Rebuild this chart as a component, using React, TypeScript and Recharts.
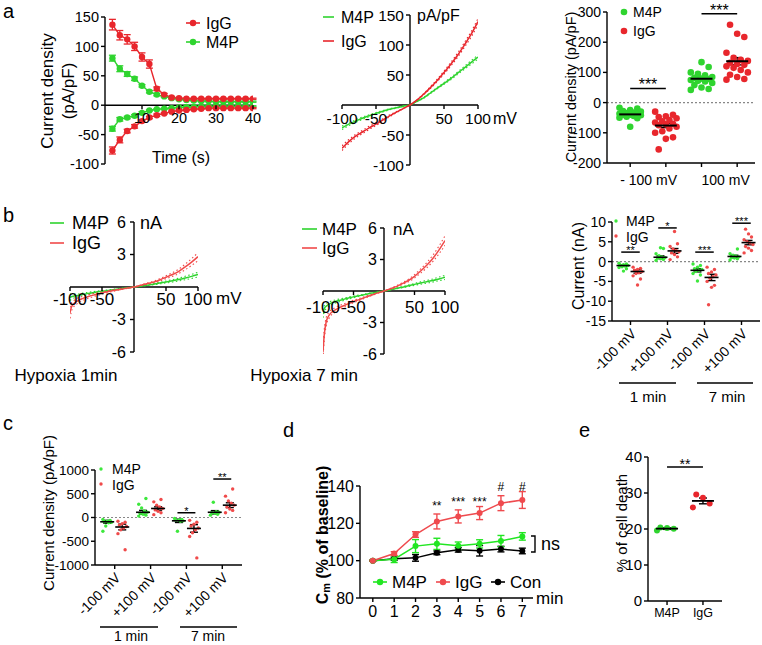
import React from 'react'
import {
  ComposedChart, Line, Scatter, XAxis, YAxis, ReferenceLine, ReferenceDot, ErrorBar,
} from 'recharts'

const FONT = '"Liberation Sans", Arial, Helvetica, sans-serif'
const RED = '#e8262c'
const GREEN = '#2fd42f'
const PALE_RED = '#f04a4a'
const PALE_GREEN = '#3de83d'
const AX = { stroke: '#000', strokeWidth: 1.4 }

// a, left: current density vs time (s), outward (+) and inward (-) currents
const TIME_S = [2, 4, 6, 8, 10, 12, 14, 16, 18, 20, 22, 24, 26, 28, 30, 32, 34, 36, 38, 40]
const IGG_OUT = [137, 119, 112, 100, 82, 70, 28, 18, 13, 12, 11, 11, 11, 11, 11, 11, 11, 11, 11, 11]
const IGG_OUT_SEM = [9, 8, 8, 7, 7, 7, 3, 2, 2, 1, 1, 1, 1, 1, 1, 1, 1, 1, 1, 1]
const IGG_IN = [-77, -59, -44, -36, -27, -21, -17, -14, -11, -9, -8, -7, -6, -5, -5, -5, -5, -5, -5, -5]
const IGG_IN_SEM = [6, 5, 3, 3, 2, 2, 2, 1, 1, 1, 1, 1, 1, 1, 1, 1, 1, 1, 1, 1]
const M4P_OUT = [80, 62, 53, 45, 33, 23, 18, 15, 12, 10, 9, 8, 7, 7, 6, 6, 6, 6, 6, 6]
const M4P_OUT_SEM = [5, 5, 4, 3, 2, 2, 2, 1, 1, 1, 1, 1, 1, 1, 1, 1, 1, 1, 1, 1]
const M4P_IN = [-40, -24, -21, -18, -13, -9, -7, -6, -5, -4, -3, -3, -2, -2, -2, -2, -2, -2, -2, -2]
const M4P_IN_SEM = [4, 3, 2, 2, 2, 1, 1, 1, 1, 1, 1, 1, 1, 1, 1, 1, 1, 1, 1, 1]

// a, middle: I-V curves (pA/pF)
const VM_A = [-100, -90, -80, -70, -60, -50, -40, -30, -20, -10, 0, 10, 20, 30, 40, 50, 60, 70, 80, 90, 100]
const IV_M4P = [-38, -32, -27, -22, -18, -14, -10.5, -7, -4.5, -2, 0, 6, 12, 20, 28, 36, 44, 53, 62, 71, 80]
const IV_M4P_SEM = [3, 2.5, 2.2, 2, 1.8, 1.5, 1.2, 1, 0.8, 0.5, 0, 0.5, 0.8, 1, 1.2, 1.5, 1.8, 2, 2.5, 3, 3.5]
const IV_IGG = [-72, -61, -52, -45, -38, -32, -25, -18, -12, -6, 0, 8, 18, 29, 41, 54, 68, 83, 100, 118, 139]
const IV_IGG_SEM = [4, 3.5, 3, 2.8, 2.5, 2.2, 2, 1.5, 1, 0.5, 0, 0.5, 1, 1.5, 2, 2.5, 3, 3.5, 4, 4.5, 5]

// a, right: single cells at -100 / +100 mV
const A3_M4P_NEG = [-17, -20, -25, -28, -30, -33, -35, -37, -38, -40, -40, -42, -44, -47, -50, -52, -80]
const A3_IGG_NEG = [-30, -40, -45, -48, -52, -58, -62, -66, -70, -72, -75, -80, -86, -95, -100, -115, -120, -155]
const A3_M4P_POS = [42, 45, 50, 58, 65, 70, 72, 75, 78, 80, 82, 85, 90, 95, 100, 118, 134]
const A3_IGG_POS = [76, 78, 85, 92, 100, 108, 115, 120, 125, 128, 132, 138, 142, 148, 165, 217, 228, 258]
const A3_MEAN = [-39, -76, 79, 137]
const A3_SEM = [3.5, 7, 6, 12]
const A3_SIG = [{ x1: 0, x2: 1, y: 47, label: '***' }, { x1: 2, x2: 3, y: 294, label: '***' }]

// b: I-V under hypoxia (nA)
const VM_B = [-100, -98, -95, -90, -80, -70, -60, -50, -40, -30, -20, -10, 0, 10, 20, 30, 40, 50, 60, 70, 80, 90, 100]
const B1_M4P = [-0.95, -0.9, -0.85, -0.8, -0.68, -0.58, -0.48, -0.4, -0.32, -0.24, -0.16, -0.08, 0, 0.08, 0.17, 0.26, 0.36, 0.46, 0.57, 0.69, 0.83, 0.98, 1.15]
const B1_M4P_SEM = [0.3, 0.25, 0.2, 0.15, 0.12, 0.1, 0.08, 0.07, 0.06, 0.05, 0.04, 0.02, 0, 0.02, 0.04, 0.05, 0.07, 0.09, 0.11, 0.13, 0.16, 0.19, 0.22]
const B1_IGG = [-2.4, -1.9, -1.6, -1.35, -1.05, -0.85, -0.7, -0.55, -0.42, -0.3, -0.2, -0.1, 0, 0.15, 0.3, 0.45, 0.65, 0.9, 1.15, 1.45, 1.85, 2.3, 2.8]
const B1_IGG_SEM = [0.5, 0.4, 0.3, 0.25, 0.2, 0.16, 0.13, 0.1, 0.08, 0.06, 0.04, 0.02, 0, 0.03, 0.05, 0.07, 0.1, 0.13, 0.17, 0.21, 0.26, 0.31, 0.37]
const B2_M4P = [-2.2, -1.7, -1.45, -1.25, -1.0, -0.85, -0.7, -0.56, -0.44, -0.32, -0.2, -0.1, 0, 0.12, 0.24, 0.36, 0.5, 0.63, 0.76, 0.88, 1.0, 1.15, 1.3]
const B2_M4P_SEM = [0.35, 0.3, 0.25, 0.2, 0.15, 0.12, 0.1, 0.08, 0.06, 0.05, 0.03, 0.02, 0, 0.02, 0.04, 0.05, 0.07, 0.09, 0.11, 0.13, 0.15, 0.17, 0.2]
const B2_IGG = [-5.8, -4.2, -3.0, -2.3, -1.8, -1.5, -1.25, -1.0, -0.8, -0.58, -0.38, -0.18, 0, 0.2, 0.42, 0.7, 1.0, 1.4, 1.9, 2.45, 3.1, 3.9, 4.8]
const B2_IGG_SEM = [0.6, 0.5, 0.4, 0.3, 0.22, 0.18, 0.15, 0.12, 0.1, 0.08, 0.05, 0.03, 0, 0.03, 0.06, 0.09, 0.12, 0.16, 0.2, 0.25, 0.3, 0.37, 0.45]

// b, right + c: per-cell values, groups = -100 mV 1 min, +100 mV 1 min, -100 mV 7 min, +100 mV 7 min
const STEP_LABELS = ['-100 mV', '+100 mV', '-100 mV', '+100 mV']
const B3_M4P = [
  [-0.4, -0.6, -0.8, -0.9, -1.0, -1.1, -1.3, -1.5, -1.8, -2.4],
  [0.3, 0.5, 0.7, 0.9, 1.0, 1.2, 1.5, 2.0, 3.3, 3.5],
  [-0.6, -1.0, -1.4, -1.8, -2.0, -2.2, -2.5, -3.0, -3.4, -4.9],
  [0.4, 0.7, 0.9, 1.0, 1.2, 1.4, 1.6, 2.0, 3.2],
]
const B3_IGG = [
  [-1.4, -1.7, -2.0, -2.2, -2.5, -2.8, -3.0, -3.6, -4.4, -5.9],
  [0.5, 1.2, 1.8, 2.2, 2.5, 2.8, 3.2, 3.8, 4.5, 7.6],
  [-1.4, -2.0, -2.6, -3.0, -3.4, -3.8, -4.2, -5.0, -6.0, -6.5, -10.9],
  [2.2, 2.8, 3.4, 3.8, 4.3, 4.7, 5.0, 5.5, 6.2, 7.0, 8.2],
]
const B3_M4P_MEAN = [-1.0, 1.1, -2.2, 1.3]
const B3_M4P_SEM = [0.2, 0.35, 0.4, 0.3]
const B3_IGG_MEAN = [-2.5, 2.7, -4.0, 4.8]
const B3_IGG_SEM = [0.45, 0.6, 0.8, 0.55]
const B3_SIG = [
  { x1: -0.25, x2: 0.25, y: 2.4, label: '**' },
  { x1: 0.75, x2: 1.25, y: 8.5, label: '*' },
  { x1: 1.75, x2: 2.25, y: 2.4, label: '***' },
  { x1: 2.75, x2: 3.25, y: 9.7, label: '***' },
]

const C_M4P = [
  [-40, -60, -80, -90, -100, -110, -180, -290],
  [30, 50, 70, 90, 110, 140, 200, 280, 400],
  [-20, -40, -50, -60, -70, -80, -290],
  [50, 70, 90, 100, 110, 120, 320],
]
const C_IGG = [
  [-80, -100, -130, -160, -190, -220, -260, -340, -680],
  [60, 100, 130, 160, 190, 220, 260, 330, 380],
  [-60, -100, -140, -180, -220, -260, -320, -400, -850],
  [100, 150, 180, 220, 260, 300, 350, 450, 600],
]
const C_M4P_MEAN = [-90, 110, -70, 110]
const C_M4P_SEM = [30, 40, 35, 35]
const C_IGG_MEAN = [-200, 190, -230, 260]
const C_IGG_SEM = [60, 35, 80, 50]
const C_SIG = [
  { x1: 1.75, x2: 2.25, y: 100, label: '*' },
  { x1: 2.75, x2: 3.25, y: 810, label: '**' },
]

// d: membrane capacitance, % of baseline
const D_MIN = [0, 1, 2, 3, 4, 5, 6, 7]
const D_M4P = [100, 100.8, 107.8, 109, 108, 109, 110.5, 113]
const D_M4P_SEM = [0.3, 1.8, 3.5, 3, 2, 2.2, 3, 2]
const D_IGG = [100, 103.8, 114, 121, 123.7, 125.5, 130.8, 132.5]
const D_IGG_SEM = [0.3, 1, 1.5, 4, 3.5, 3.5, 4, 4.5]
const D_CON = [100, 101, 101.5, 104.2, 105.8, 105.3, 106.2, 105.2]
const D_CON_SEM = [0.3, 0.8, 1.8, 1, 1.2, 2.8, 1.5, 1.5]
const D_SIG = [
  { t: 3, y: 129.4, label: '**' },
  { t: 4, y: 131.5, label: '***' },
  { t: 5, y: 131.5, label: '***' },
  { t: 6, y: 139.4, label: '#' },
  { t: 7, y: 139.4, label: '#' },
]

// e: cell death %
const E_M4P = [19.6, 20.1, 20.3, 20.4]
const E_IGG = [26.0, 27.1, 28.7, 29.6]
const E_MEAN = [20.1, 27.8]
const E_SEM = [0.2, 0.8]

// ---------- helpers
const tickFont = (fs: number) => ({ fill: '#000', fontSize: fs, fontFamily: FONT })
const jitter = (i: number, amp: number) => ((((i * 5) % 7) - 3) / 3) * amp
const spread = (vals: number[], x0: number, amp: number) => vals.map((y, i) => ({ x: x0 + jitter(i, amp), y }))
const dotShape = (r: number, fill: string) => (p: any) => <circle cx={p.cx} cy={p.cy} r={r} fill={fill} />
const meanShape = (half: number, sw: number) => (p: any) => (
  <line x1={p.cx - half} x2={p.cx + half} y1={p.cy} y2={p.cy} stroke="#000" strokeWidth={sw} />
)

// axes that cross at zero: recharts puts ticks on the plot edge, we slide them onto the zero line
const crossXTick = (shift: number, gap: number, fs: number) => (p: any) => {
  const y0 = p.y - shift
  return (
    <g>
      <line x1={p.x} x2={p.x} y1={y0} y2={y0 + 4} stroke="#000" strokeWidth={1.4} />
      <text x={p.x} y={y0 + gap} textAnchor="middle" dominantBaseline="central" {...tickFont(fs)}>{p.payload.value}</text>
    </g>
  )
}
const crossYTick = (shift: number, gap: number, fs: number) => (p: any) => {
  const x0 = p.x + shift
  return (
    <g>
      <line x1={x0 - 4} x2={x0} y1={p.y} y2={p.y} stroke="#000" strokeWidth={1.4} />
      <text x={x0 - gap} y={p.y} textAnchor="end" dominantBaseline="central" {...tickFont(fs)}>{p.payload.value}</text>
    </g>
  )
}
const rotTick = (labels: string[], fs: number) => (p: any) => (
  <text transform={`translate(${p.x + 3},${p.y + 3}) rotate(-45)`} textAnchor="end" dominantBaseline="central" {...tickFont(fs)}>
    {labels[p.payload.value]}
  </text>
)

function ivRows(v: number[], m: number[], mSem: number[], g: number[], gSem: number[]) {
  return v.map((x, i) => ({
    v: x,
    m4p: m[i], m4pHi: m[i] + mSem[i], m4pLo: m[i] - mSem[i],
    igg: g[i], iggHi: g[i] + gSem[i], iggLo: g[i] - gSem[i],
  }))
}

// m = plot edges inside the box; axes get 1px so recharts still draws their ticks
function IvPanel({ rows, w, h, m, yDomain, xTicks, yTicks, xfs, yfs, xGap, yGap, red }: any) {
  const plotW = w - m.left - m.right
  const plotH = h - m.top - m.bottom
  const xShift = (plotH * (0 - yDomain[0])) / (yDomain[1] - yDomain[0])
  const yShift = plotW / 2
  const dotted = { strokeWidth: 1.1, strokeDasharray: '1.5 2.5', dot: false, type: 'monotone' as const, isAnimationActive: false }
  return (
    <ComposedChart width={w} height={h} data={rows} margin={{ ...m, left: m.left - 1, bottom: m.bottom - 1 }}>
      <XAxis type="number" dataKey="v" domain={[-100, 100]} ticks={xTicks} interval={0} height={1}
        axisLine={false} tickLine={false} tickSize={0} tickMargin={0} tick={crossXTick(xShift, xGap, xfs)} allowDataOverflow />
      <YAxis type="number" domain={yDomain} ticks={yTicks} interval={0} width={1}
        axisLine={false} tickLine={false} tickSize={0} tickMargin={0} tick={crossYTick(yShift, yGap, yfs)} allowDataOverflow />
      <ReferenceLine y={0} stroke="#000" strokeWidth={1.4} />
      <ReferenceLine x={0} stroke="#000" strokeWidth={1.4} />
      <Line dataKey="m4pHi" stroke={GREEN} {...dotted} />
      <Line dataKey="m4pLo" stroke={GREEN} {...dotted} />
      <Line dataKey="m4p" stroke={GREEN} strokeWidth={1.5} dot={false} type="monotone" isAnimationActive={false} />
      <Line dataKey="iggHi" stroke={red} {...dotted} />
      <Line dataKey="iggLo" stroke={red} {...dotted} />
      <Line dataKey="igg" stroke={red} strokeWidth={1.5} dot={false} type="monotone" isAnimationActive={false} />
    </ComposedChart>
  )
}

function DotPanel({ w, h, m, yw, xDomain, yDomain, yTicks, xTicks, xTick, xFormat, xfs, yfs, groups, r, amp, half, cap, msw, sig, sigFs, zero }: any) {
  return (
    <ComposedChart width={w} height={h} margin={{ ...m, bottom: m.bottom - 1 }}>
      <XAxis type="number" dataKey="x" domain={xDomain} ticks={xTicks} interval={0} height={1} allowDataOverflow
        axisLine={AX} tickLine={AX} tickSize={4} tickMargin={3} tick={xTick || tickFont(xfs)} tickFormatter={xFormat} />
      <YAxis type="number" dataKey="y" width={yw} domain={yDomain} ticks={yTicks} interval={0} allowDataOverflow
        axisLine={AX} tickLine={AX} tickSize={4} tickMargin={2} tick={tickFont(yfs)} />
      {zero && <ReferenceLine y={0} stroke="#888" strokeWidth={1.2} strokeDasharray="2 2" />}
      {groups.map((g: any, i: number) => (
        <Scatter key={'g' + i} data={spread(g.vals, g.x, amp)} shape={dotShape(r, g.color)} isAnimationActive={false} />
      ))}
      <Scatter data={groups.map((g: any) => ({ x: g.x, y: g.mean, e: g.sem }))} shape={meanShape(half, msw)} isAnimationActive={false}>
        <ErrorBar dataKey="e" direction="y" width={cap} stroke="#000" strokeWidth={1.4} />
      </Scatter>
      {sig.map((s: any, i: number) => (
        <ReferenceLine key={'s' + i} segment={[{ x: s.x1, y: s.y }, { x: s.x2, y: s.y }]} stroke="#000" strokeWidth={1.5}
          ifOverflow="visible" label={{ value: s.label, position: 'top', offset: -2, fontSize: sigFs, fill: '#000', fontFamily: FONT }} />
      ))}
    </ComposedChart>
  )
}

// ---------- panels
function PanelA1() {
  const rows = TIME_S.map((t, i) => ({
    t, igOut: IGG_OUT[i], igOutE: IGG_OUT_SEM[i], igIn: IGG_IN[i], igInE: IGG_IN_SEM[i],
    mOut: M4P_OUT[i], mOutE: M4P_OUT_SEM[i], mIn: M4P_IN[i], mInE: M4P_IN_SEM[i],
  }))
  const m = { top: 17, right: 17, bottom: 26, left: 0 }
  const plotH = 190 - m.top - m.bottom
  const shift = (plotH * 100) / 250
  const series = [
    ['mOut', GREEN], ['mIn', GREEN], ['igOut', RED], ['igIn', RED],
  ]
  return (
    <ComposedChart width={270} height={190} data={rows} margin={{ ...m, bottom: m.bottom - 1 }}>
      <XAxis type="number" dataKey="t" domain={[0, 40]} ticks={[10, 20, 30, 40]} interval={0} height={1}
        axisLine={false} tickLine={false} tickSize={0} tickMargin={0} tick={crossXTick(shift, 13, 14.5)} allowDataOverflow />
      <YAxis type="number" width={105} domain={[-100, 150]} ticks={[-100, -50, 0, 50, 100, 150]} interval={0} allowDataOverflow
        axisLine={AX} tickLine={AX} tickSize={4} tickMargin={2} tick={tickFont(14.5)} />
      <ReferenceLine y={0} stroke="#000" strokeWidth={1.4} />
      {series.map(([k, c]) => (
        <Line key={k} dataKey={k} stroke={c} strokeWidth={1.4} dot={{ r: 3.2, fill: c, stroke: c, strokeWidth: 0 }} isAnimationActive={false}>
          <ErrorBar dataKey={k + 'E'} width={3.5} stroke={c} strokeWidth={1.3} />
        </Line>
      ))}
    </ComposedChart>
  )
}

function PanelA3() {
  const vals = [A3_M4P_NEG, A3_IGG_NEG, A3_M4P_POS, A3_IGG_POS]
  const groups = vals.map((v, i) => ({ x: i, vals: v, mean: A3_MEAN[i], sem: A3_SEM[i], color: i % 2 ? RED : GREEN }))
  const labels: Record<number, [string, number]> = { 0: ['- 100 mV', -10], 2: ['100 mV', 0] }
  const xTick = (p: any) => {
    const l = labels[p.payload.value]
    if (!l) return <g />
    return <text x={p.x + l[1]} y={p.y + 10} textAnchor="start" dominantBaseline="central" {...tickFont(14)}>{l[0]}</text>
  }
  return (
    <DotPanel w={242} h={195} m={{ top: 12, right: 7, bottom: 32, left: 0 }} yw={87}
      xDomain={[-0.65, 3.5]} yDomain={[-200, 300]} yTicks={[-200, -100, 0, 100, 200, 300]} xTicks={[0, 1, 2, 3]}
      xTick={xTick} yfs={14} groups={groups} r={3.3} amp={0.3} half={11} cap={5} msw={2}
      sig={A3_SIG} sigFs={16} zero />
  )
}

function PairPanel({ w, h, m, yw, xDomain, yDomain, yTicks, yfs, mv, iv, mMean, mSem, iMean, iSem, off, sig, sigFs }: any) {
  const groups: any[] = []
  for (let i = 0; i < 4; i++) {
    groups.push({ x: i - off, vals: mv[i], mean: mMean[i], sem: mSem[i], color: PALE_GREEN })
    groups.push({ x: i + off, vals: iv[i], mean: iMean[i], sem: iSem[i], color: PALE_RED })
  }
  return (
    <DotPanel w={w} h={h} m={m} yw={yw} xDomain={xDomain} yDomain={yDomain} yTicks={yTicks}
      xTicks={[0, 1, 2, 3]} xTick={rotTick(STEP_LABELS, 14)} yfs={yfs} groups={groups}
      r={1.7} amp={0.12} half={7} cap={4} msw={1.6} sig={sig} sigFs={sigFs} zero />
  )
}

function PanelD() {
  const rows = D_MIN.map((t, i) => ({
    t, m4p: D_M4P[i], m4pE: D_M4P_SEM[i], igg: D_IGG[i], iggE: D_IGG_SEM[i], con: D_CON[i], conE: D_CON_SEM[i],
  }))
  const series = [['con', '#000'], ['m4p', '#22e622'], ['igg', '#ef4a4e']]
  return (
    <ComposedChart width={290} height={205} data={rows} margin={{ top: 46, right: 47, bottom: 46, left: 0 }}>
      <XAxis type="number" dataKey="t" domain={[-0.6, 7.5]} ticks={D_MIN} interval={0} height={1} allowDataOverflow
        axisLine={AX} tickLine={AX} tickSize={4} tickMargin={4} tick={tickFont(16)} />
      <YAxis type="number" width={70} domain={[80, 140]} ticks={[80, 100, 120, 140]} interval={0} allowDataOverflow
        axisLine={AX} tickLine={AX} tickSize={4} tickMargin={2} tick={tickFont(16)} />
      {series.map(([k, c]) => (
        <Line key={k} dataKey={k} stroke={c} strokeWidth={1.5} dot={{ r: 3, fill: c, stroke: c, strokeWidth: 0 }} isAnimationActive={false}>
          <ErrorBar dataKey={k + 'E'} width={3.5} stroke={c} strokeWidth={1.4} />
        </Line>
      ))}
      {D_SIG.map((s) => (
        <ReferenceDot key={s.t} x={s.t} y={s.y} r={0} ifOverflow="visible"
          label={{ value: s.label, position: 'center', fontSize: 12, fill: '#000', fontFamily: FONT }} />
      ))}
    </ComposedChart>
  )
}

function PanelE() {
  const groups = [
    { x: 0, vals: E_M4P, mean: E_MEAN[0], sem: E_SEM[0], color: GREEN },
    { x: 1, vals: E_IGG, mean: E_MEAN[1], sem: E_SEM[1], color: RED },
  ]
  return (
    <DotPanel w={182} h={205} m={{ top: 17, right: 40, bottom: 44, left: 0 }} yw={68}
      xDomain={[-0.53, 1.53]} yDomain={[0, 40]} yTicks={[0, 10, 20, 30, 40]} xTicks={[0, 1]}
      xFormat={(v: number) => (v === 0 ? 'M4P' : 'IgG')} xfs={12.5} yfs={15} groups={groups}
      r={3} amp={0.28} half={11} cap={4} msw={1.8} sig={[{ x1: 0, x2: 1, y: 37.2, label: '**' }]} sigFs={14} />
  )
}

// ---------- free text, legends, brackets
function T({ x, y, s = 16, a = 'start', rot = 0, bold = false, base = false, children }: any) {
  return (
    <text x={x} y={y} fontSize={s} textAnchor={a} dominantBaseline={base ? 'auto' : 'central'} fontWeight={bold ? 700 : 400}
      fontFamily={FONT} fill="#000" transform={rot ? `rotate(${rot} ${x} ${y})` : undefined}>{children}</text>
  )
}
function Key({ x, y, color, kind, len = 14, r = 3.2 }: any) {
  return (
    <g>
      {kind !== 'dot' && <line x1={x} x2={x + len} y1={y} y2={y} stroke={color} strokeWidth={1.6} />}
      {kind !== 'line' && <circle cx={kind === 'dot' ? x : x + len / 2} cy={y} r={r} fill={color} />}
    </g>
  )
}

function Overlay() {
  return (
    <svg width={762} height={645} style={{ position: 'absolute', left: 0, top: 0, pointerEvents: 'none' }}>
      <T x={3} y={18} s={20} base>a</T>
      <T x={3} y={222} s={20} base>b</T>
      <T x={3} y={430} s={20} base>c</T>
      <T x={283} y={437} s={20} base>d</T>
      <T x={579} y={437} s={20} base>e</T>

      <T x={47} y={91} s={17} a="middle" rot={-90}>Current density</T>
      <T x={68} y={91} s={17} a="middle" rot={-90}>(pA/pF)</T>
      <T x={181} y={157} s={16} a="middle">Time (s)</T>
      <Key x={186} y={23} color={RED} kind="linedot" />
      <T x={206} y={23}>IgG</T>
      <Key x={186} y={42} color={GREEN} kind="linedot" />
      <T x={206} y={42}>M4P</T>

      <Key x={323} y={17} color={GREEN} kind="line" len={11} />
      <T x={341} y={17}>M4P</T>
      <Key x={323} y={41} color={RED} kind="line" len={11} />
      <T x={341} y={41}>IgG</T>
      <T x={417} y={15}>pA/pF</T>
      <T x={493} y={118}>mV</T>

      <T x={571} y={87} s={14.5} a="middle" rot={-90}>Current density (pA/pF)</T>
      <Key x={624} y={12} color={GREEN} kind="dot" r={3.3} />
      <T x={633} y={12} s={14}>M4P</T>
      <Key x={624} y={31} color={RED} kind="dot" r={3.3} />
      <T x={633} y={31} s={14}>IgG</T>

      <Key x={50} y={223} color={GREEN} kind="line" />
      <T x={72} y={223} s={18}>M4P</T>
      <Key x={50} y={243} color={PALE_RED} kind="line" />
      <T x={72} y={243} s={18}>IgG</T>
      <T x={140} y={223} s={18}>nA</T>
      <T x={216} y={298} s={17}>mV</T>
      <T x={66} y={375} s={17} a="middle">Hypoxia 1min</T>

      <Key x={302} y={229} color={GREEN} kind="line" len={15} />
      <T x={322} y={229} s={17}>M4P</T>
      <Key x={302} y={248} color={PALE_RED} kind="line" len={15} />
      <T x={322} y={248} s={17}>IgG</T>
      <T x={393} y={229} s={17}>nA</T>
      <T x={304} y={375} s={17} a="middle">Hypoxia 7 min</T>

      <T x={578} y={266} s={16} a="middle" rot={-90}>Current (nA)</T>
      <Key x={616} y={221} color={PALE_GREEN} kind="dot" r={1.7} />
      <T x={626} y={221} s={14}>M4P</T>
      <Key x={616} y={236} color={PALE_RED} kind="dot" r={1.7} />
      <T x={626} y={237} s={14}>IgG</T>
      <line x1={619} x2={676} y1={383} y2={383} stroke="#000" strokeWidth={1.4} />
      <line x1={697} x2={753} y1={383} y2={383} stroke="#000" strokeWidth={1.4} />
      <T x={648} y={396} s={15} a="middle">1 min</T>
      <T x={727} y={396} s={15} a="middle">7 min</T>

      <T x={48} y={513} s={15} a="middle" rot={-90}>Current density (pA/pF)</T>
      <Key x={101} y={469} color={PALE_GREEN} kind="dot" r={1.7} />
      <T x={112} y={469} s={14}>M4P</T>
      <Key x={101} y={484} color={PALE_RED} kind="dot" r={1.7} />
      <T x={112} y={485} s={14}>IgG</T>
      <line x1={100} x2={158} y1={627} y2={627} stroke="#000" strokeWidth={1.4} />
      <line x1={180} x2={237} y1={627} y2={627} stroke="#000" strokeWidth={1.4} />
      <T x={131} y={636} s={14} a="middle">1 min</T>
      <T x={208} y={636} s={14} a="middle">7 min</T>

      <text x={322} y={535} transform="rotate(-90 322 535)" textAnchor="middle" dominantBaseline="central"
        fontSize={16} fontWeight={700} fontFamily={FONT} fill="#000">
        C<tspan fontSize={11} dy={4}>m</tspan><tspan dy={-4}> (% of baseline)</tspan>
      </text>
      <Key x={373} y={582} color="#22e622" kind="linedot" />
      <T x={392} y={582} s={17}>M4P</T>
      <Key x={436} y={582} color="#ef4a4e" kind="linedot" />
      <T x={455} y={582} s={17}>IgG</T>
      <Key x={491} y={582} color="#000" kind="linedot" />
      <T x={510} y={582} s={17}>Con</T>
      <T x={536} y={598} s={17}>min</T>
      <path d="M531,536 H535 V552 H531" fill="none" stroke="#000" strokeWidth={1.4} />
      <T x={541} y={544} s={18}>ns</T>

      <T x={621} y={523} s={15} a="middle" rot={-90}>% of cell death</T>
    </svg>
  )
}

const Box = ({ x, y, children }: any) => <div style={{ position: 'absolute', left: x, top: y }}>{children}</div>

export default function App() {
  return (
    <div style={{ position: 'absolute', left: 0, top: 0, width: 762, height: 645, background: '#fff', fontFamily: FONT }}>
      <style>{'.recharts-surface{overflow:visible}'}</style>
      <Box x={0} y={0}><PanelA1 /></Box>
      <Box x={300} y={0}>
        <IvPanel rows={ivRows(VM_A, IV_M4P, IV_M4P_SEM, IV_IGG, IV_IGG_SEM)} w={210} h={190}
          m={{ top: 15, right: 32, bottom: 25, left: 42 }} yDomain={[-100, 150]}
          xTicks={[-100, -50, 50, 100]} yTicks={[-100, -50, 50, 100, 150]} xfs={15.5} yfs={15.5} xGap={13} yGap={6} red={RED} />
      </Box>
      <Box x={520} y={0}><PanelA3 /></Box>
      <Box x={0} y={200}>
        <IvPanel rows={ivRows(VM_B, B1_M4P, B1_M4P_SEM, B1_IGG, B1_IGG_SEM)} w={250} h={170}
          m={{ top: 22, right: 52, bottom: 18, left: 70 }} yDomain={[-6, 6]}
          xTicks={[-100, -50, 50, 100]} yTicks={[-6, -3, 3, 6]} xfs={17} yfs={16} xGap={12} yGap={8} red={PALE_RED} />
      </Box>
      <Box x={250} y={200}>
        <IvPanel rows={ivRows(VM_B, B2_M4P, B2_M4P_SEM, B2_IGG, B2_IGG_SEM)} w={230} h={170}
          m={{ top: 28, right: 35, bottom: 16, left: 73 }} yDomain={[-6, 6]}
          xTicks={[-100, -50, 50, 100]} yTicks={[-6, -3, 3, 6]} xfs={17} yfs={16} xGap={16} yGap={7} red={PALE_RED} />
      </Box>
      <Box x={540} y={195}>
        <PairPanel w={222} h={210} m={{ top: 27, right: 2, bottom: 84, left: 0 }} yw={72}
          xDomain={[-0.5, 3.5]} yDomain={[-15, 10]} yTicks={[-15, -10, -5, 0, 5, 10]} yfs={14}
          mv={B3_M4P} iv={B3_IGG} mMean={B3_M4P_MEAN} mSem={B3_M4P_SEM} iMean={B3_IGG_MEAN} iSem={B3_IGG_SEM}
          off={0.19} sig={B3_SIG} sigFs={11} />
      </Box>
      <Box x={0} y={440}>
        <PairPanel w={250} h={205} m={{ top: 30, right: 8, bottom: 80, left: 0 }} yw={95}
          xDomain={[-0.55, 3.55]} yDomain={[-1000, 1000]} yTicks={[-1000, -500, 0, 500, 1000]} yfs={13.5}
          mv={C_M4P} iv={C_IGG} mMean={C_M4P_MEAN} mSem={C_M4P_SEM} iMean={C_IGG_MEAN} iSem={C_IGG_SEM}
          off={0.21} sig={C_SIG} sigFs={11} />
      </Box>
      <Box x={290} y={440}><PanelD /></Box>
      <Box x={580} y={440}><PanelE /></Box>
      <Overlay />
    </div>
  )
}
